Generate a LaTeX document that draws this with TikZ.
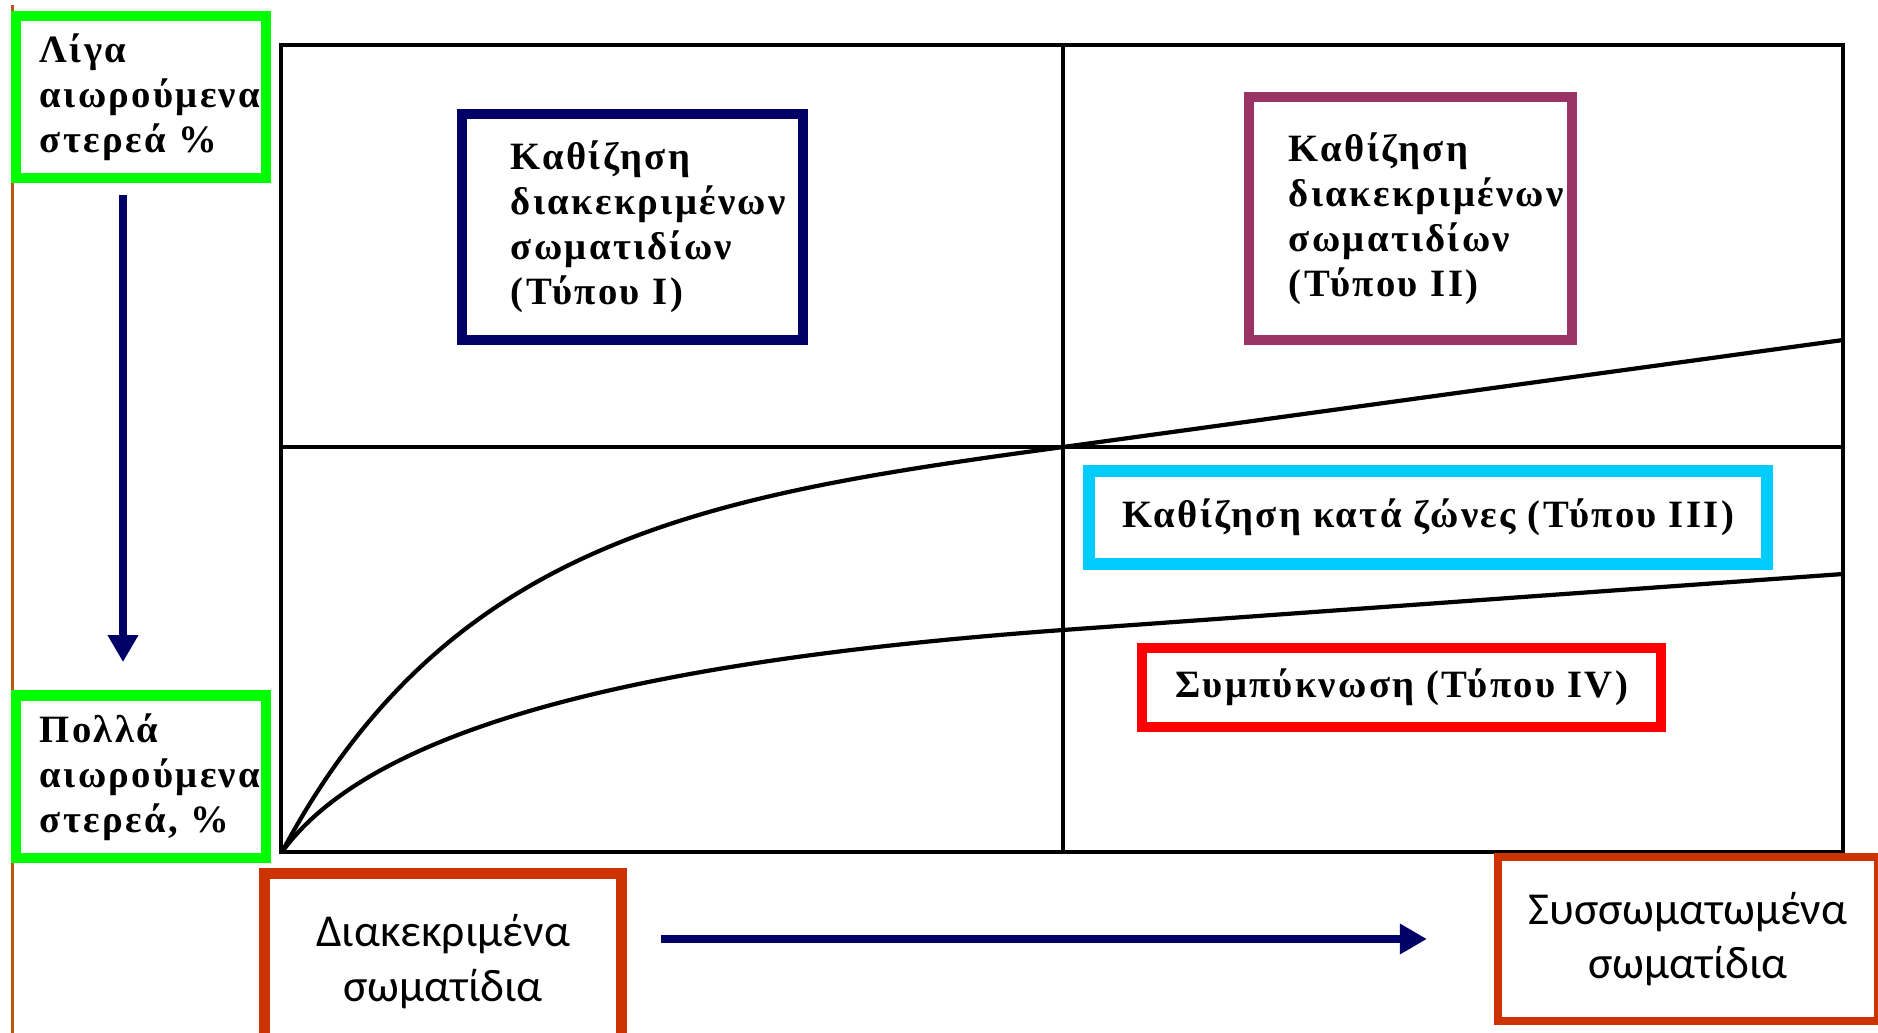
\documentclass[tikz,border=0pt]{standalone}
\usepackage{fontspec}
\setmainfont{Liberation Serif}
\newfontfamily\greekserif[LetterSpace=6]{Liberation Serif}
\newfontfamily\greeksans{Carlito}
\usepackage{xcolor}
\usetikzlibrary{arrows.meta,positioning}

\definecolor{boxgreen}{RGB}{0,255,0}
\definecolor{navy}{RGB}{0,0,102}
\definecolor{plum}{RGB}{153,51,102}
\definecolor{skyblue}{RGB}{0,204,255}
\definecolor{brick}{RGB}{204,51,0}
\definecolor{edgeline}{RGB}{190,85,20}

\begin{document}
\begin{tikzpicture}[x = 0.01cm, y = -0.01cm, >={Triangle[length=0.27cm, width=0.29cm]}, inner sep = 0pt, outer sep = 0pt]
	\tikzstyle{greektext} = [rectangle, font = \greekserif\bfseries\fontsize{11}{12.8}\selectfont]
	\tikzstyle{solidsbox} = [greektext, draw = boxgreen, line width = 3pt, align = left, minimum width = 2.495cm, text width = 2.02cm]
	\tikzstyle{regime} = [greektext, line width = 2.85pt, align = left, text width = 2.43cm]
	\tikzstyle{zonebox} = [greektext, align = center]
	\tikzstyle{endstate} = [rectangle, draw = brick, align = center, font = \greeksans\fontsize{13}{15.5}\selectfont]
	\tikzstyle{chartline} = [line width = 1.3pt]
	\tikzstyle{settling} = [line width = 1.2pt]
	\tikzstyle{flow} = [->, draw = navy, line width = 2.5pt]
	\useasboundingbox (0,0) rectangle (1878,1033);
	\clip (0,0) rectangle (1878,1033);
	% left page edge
	\draw [edgeline, line width = 0.9pt] (12.5,5) -- (12.5,1033);
	% chart frame and quadrants
	\draw [chartline] (281,45) rectangle (1843,852);
	\draw [chartline] (1063,45) -- (1063,852);
	\draw [chartline] (281,447) -- (1843,447);
	\draw [settling] (282,852) .. controls (451,535) and (713,495) .. (1063,447) -- (1843,340);
	\draw [settling] (282,852) .. controls (376,722) and (663,659) .. (1063,630) -- (1843,574);
	% boxes
	\node [solidsbox, minimum height = 1.615cm] (fewsolids) at (141,97) {Λίγα\\αιωρούμενα\\στερεά \%};
	\node [solidsbox, minimum height = 1.625cm] (manysolids) [below = 5.175cm of fewsolids] {Πολλά\\αιωρούμενα\\στερεά, \%};
	\node [regime, draw = navy, minimum width = 3.41cm, minimum height = 2.26cm] (typeI) at (632.5,227) {Καθίζηση\\διακεκριμένων\\σωματιδίων\\(Τύπου I)};
	\node [regime, draw = plum, minimum width = 3.23cm, minimum height = 2.43cm] (typeII) at (1410.5,218.5) {Καθίζηση\\διακεκριμένων\\σωματιδίων\\(Τύπου II)};
	\node [zonebox, draw = skyblue, line width = 3.4pt, minimum width = 6.78cm, minimum height = 0.93cm] (typeIII) at (1428,517.5) {Καθίζηση κατά ζώνες (Τύπου III)};
	\node [zonebox, draw = red, line width = 2.7pt, minimum width = 5.19cm, minimum height = 0.79cm] (typeIV) at (1401.5,687.5) {Συμπύκνωση (Τύπου IV)};
	\node [endstate, line width = 3.1pt, minimum width = 3.57cm, minimum height = 1.765cm] (discrete) at (443,961.75) {Διακεκριμένα\\σωματίδια};
	\node [endstate, line width = 2.3pt, minimum width = 3.8cm, minimum height = 1.64cm] (aggregated) at (1688,939) {Συσσωματωμένα\\σωματίδια};
	% arrows
	\draw [flow, shorten <= 0.17cm, shorten >= 0.335cm] ([xshift = -0.18cm]fewsolids.south) -- ([xshift = -0.18cm]manysolids.north);
	\draw [flow, shorten <= 0.395cm, shorten >= 0.71cm] (discrete.east |- aggregated.west) -- (aggregated.west);
\end{tikzpicture}
\end{document}
